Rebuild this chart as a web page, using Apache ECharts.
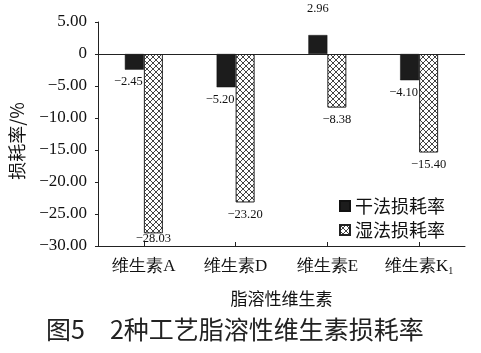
<!DOCTYPE html>
<html><head><meta charset="utf-8">
<script src="https://cdn.jsdelivr.net/npm/echarts@6/dist/echarts.min.js"></script>
<style>html,body{margin:0;padding:0;background:#fff}#c{width:481px;height:353px}</style>
</head><body><div id="c"></div>
<script>
const categories = ['维生素A', '维生素D', '维生素E', '维生素K₁'];
const seriesNames = ['干法损耗率', '湿法损耗率'];
const dryLoss = [-2.45, -5.20, 2.96, -4.10];
const wetLoss = [-28.03, -23.20, -8.38, -15.40];
const yTicks = { min: -30, max: 5, interval: 5 };
const xName = '脂溶性维生素';
const yName = '损耗率/%';
const caption = '图5\u30002种工艺脂溶性维生素损耗率';

const serif = 'Liberation Serif';
const sans = 'Noto Sans CJK SC';
function fmt(v) { return v === 0 ? '0' : (v < 0 ? '\u2212' : '') + Math.abs(v).toFixed(2); }

const pc = document.createElement('canvas');
pc.width = 6; pc.height = 6;
const g = pc.getContext('2d');
g.fillStyle = '#fff'; g.fillRect(0, 0, 6, 6);
g.strokeStyle = '#444'; g.lineWidth = 1;
g.beginPath(); g.moveTo(0, 0); g.lineTo(6, 6); g.moveTo(0, 6); g.lineTo(6, 0); g.stroke();
const hatch = { image: pc, repeat: 'repeat' };

// label placement tweaks (style only)
const dryLabelStyle = v => v > 0 ? { position: 'top', offset: [0, -14] } : { position: 'bottom', offset: [-6, 0] };
const wetLabelStyle = v => v < -25 ? { position: 'bottom', distance: 1, offset: [0, -2] } : { position: 'bottom' };

const chart = echarts.init(document.getElementById('c'), null, { renderer: 'canvas' });
chart.setOption({
  animation: false,
  backgroundColor: '#fff',
  title: {
    text: caption, left: 41, top: 312,
    textStyle: { fontFamily: sans, fontSize: 25, fontWeight: 'normal', color: '#222' }
  },
  legend: {
    orient: 'vertical', left: 334, top: 192, itemWidth: 10, itemHeight: 10, itemGap: 6,
    icon: 'rect',
    data: seriesNames,
    textStyle: { fontFamily: sans, fontSize: 18, color: '#111' }
  },
  grid: { left: 91, right: 16, top: 22, bottom: 107, containLabel: false },
  xAxis: {
    type: 'category', data: categories,
    name: xName, nameLocation: 'middle', nameGap: 44,
    nameTextStyle: { fontFamily: sans, fontSize: 17, color: '#111' },
    axisLine: { onZero: false, lineStyle: { color: '#222', width: 1 } },
    axisTick: { show: true, inside: true, length: 4, alignWithLabel: true, interval: 0, lineStyle: { color: '#222' } },
    axisLabel: {
      interval: 0, margin: 12, color: '#111', fontFamily: serif, fontSize: 17,
      formatter: v => v.replace('₁', '{sub|1}'),
      rich: { sub: { fontFamily: serif, fontSize: 10, verticalAlign: 'bottom', padding: [8, 0, 0, 0], color: '#111' } }
    }
  },
  yAxis: {
    type: 'value', min: yTicks.min, max: yTicks.max, interval: yTicks.interval,
    name: yName, nameLocation: 'middle', nameGap: 72, nameRotate: 90,
    nameTextStyle: { fontFamily: sans, fontSize: 18, color: '#111', padding: [0, 14, 0, 0] },
    axisLine: { show: true, lineStyle: { color: '#222', width: 1 } },
    axisTick: { show: true, inside: false, length: 3, lineStyle: { color: '#222' } },
    splitLine: { show: false },
    axisLabel: { margin: 11, color: '#111', fontFamily: serif, fontSize: 17, formatter: fmt }
  },
  series: [
    {
      name: seriesNames[0], type: 'bar', barWidth: 19, barGap: '0%',
      data: dryLoss.map(v => ({ value: v, label: dryLabelStyle(v) })),
      itemStyle: { color: '#1c1c1c', borderColor: '#111', borderWidth: 0.5 },
      label: {
        show: true, fontFamily: serif, fontSize: 12.5, color: '#111', distance: 6,
        formatter: p => fmt(p.value)
      },
      markLine: {
        silent: true, symbol: 'none', label: { show: false },
        lineStyle: { color: '#222', width: 1, type: 'solid' },
        data: [{ yAxis: 0 }]
      }
    },
    {
      name: seriesNames[1], type: 'bar', barWidth: 19, barGap: '0%',
      data: wetLoss.map(v => ({ value: v, label: wetLabelStyle(v) })),
      itemStyle: { color: hatch, borderColor: '#222', borderWidth: 1 },
      label: {
        show: true, fontFamily: serif, fontSize: 12.5, color: '#111', distance: 6,
        formatter: p => fmt(p.value)
      }
    }
  ]
});
</script></body></html>
